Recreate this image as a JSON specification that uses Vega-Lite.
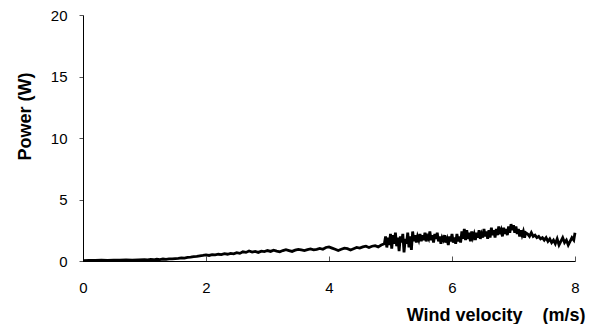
{
  "$schema": "https://vega.github.io/schema/vega-lite/v6.json",
  "width": 492,
  "height": 246,
  "autosize": {"type": "none"},
  "padding": {"left": 83, "top": 15, "right": 21, "bottom": 63},
  "background": "white",
  "config": {"view": {"stroke": null}, "font": "Liberation Sans"},
  "data": {"values": [
    {"v":0,"p":0.03},{"v":0.1,"p":0.05},{"v":0.2,"p":0.04},{"v":0.3,"p":0.06},{"v":0.4,"p":0.05},{"v":0.5,"p":0.07},{"v":0.6,"p":0.06},{"v":0.7,"p":0.08},{"v":0.8,"p":0.07},{"v":0.9,"p":0.09},{"v":1.0,"p":0.1},
    {"v":1.05,"p":0.09},{"v":1.1,"p":0.12},{"v":1.15,"p":0.1},{"v":1.2,"p":0.14},{"v":1.25,"p":0.12},{"v":1.3,"p":0.16},{"v":1.35,"p":0.13},{"v":1.4,"p":0.18},{"v":1.45,"p":0.17},{"v":1.5,"p":0.2},{"v":1.55,"p":0.22},{"v":1.6,"p":0.25},{"v":1.65,"p":0.24},{"v":1.7,"p":0.3},{"v":1.75,"p":0.32},{"v":1.8,"p":0.35},{"v":1.85,"p":0.38},{"v":1.9,"p":0.42},{"v":1.95,"p":0.45},{"v":2.0,"p":0.5},
    {"v":2.05,"p":0.45},{"v":2.1,"p":0.52},{"v":2.15,"p":0.5},{"v":2.2,"p":0.55},{"v":2.25,"p":0.52},{"v":2.3,"p":0.6},{"v":2.35,"p":0.55},{"v":2.4,"p":0.62},{"v":2.45,"p":0.58},{"v":2.5,"p":0.68},{"v":2.55,"p":0.62},{"v":2.6,"p":0.75},{"v":2.65,"p":0.7},{"v":2.7,"p":0.82},{"v":2.75,"p":0.72},{"v":2.8,"p":0.78},{"v":2.85,"p":0.7},{"v":2.9,"p":0.8},{"v":2.95,"p":0.76},{"v":3.0,"p":0.85},{"v":3.05,"p":0.78},{"v":3.1,"p":0.88},{"v":3.15,"p":0.8},{"v":3.2,"p":0.75},{"v":3.25,"p":0.85},{"v":3.3,"p":0.92},{"v":3.35,"p":0.85},{"v":3.4,"p":0.78},{"v":3.45,"p":0.88},{"v":3.5,"p":0.95},{"v":3.55,"p":0.9},{"v":3.6,"p":0.85},{"v":3.65,"p":0.92},{"v":3.7,"p":0.98},{"v":3.75,"p":0.9},{"v":3.8,"p":0.95},{"v":3.85,"p":1.02},{"v":3.9,"p":0.95},{"v":3.95,"p":1.1},{"v":4.0,"p":1.15},
    {"v":4.05,"p":1.05},{"v":4.1,"p":0.95},{"v":4.15,"p":0.85},{"v":4.2,"p":0.95},{"v":4.25,"p":1.05},{"v":4.3,"p":1.0},{"v":4.35,"p":0.9},{"v":4.4,"p":1.0},{"v":4.45,"p":1.1},{"v":4.5,"p":1.05},{"v":4.55,"p":1.15},{"v":4.6,"p":1.2},{"v":4.65,"p":1.1},{"v":4.7,"p":1.2},{"v":4.75,"p":1.25},{"v":4.8,"p":1.15},{"v":4.85,"p":1.3},{"v":4.9,"p":1.4},
    {"v":4.92,"p":2.0},{"v":4.94,"p":1.1},{"v":4.96,"p":1.9},{"v":4.98,"p":1.3},{"v":5.0,"p":2.2},{"v":5.02,"p":1.0},{"v":5.04,"p":2.1},{"v":5.06,"p":1.4},{"v":5.08,"p":2.3},{"v":5.1,"p":1.2},{"v":5.12,"p":1.9},{"v":5.14,"p":0.8},{"v":5.16,"p":2.0},{"v":5.18,"p":1.5},{"v":5.2,"p":2.2},{"v":5.22,"p":0.7},{"v":5.24,"p":1.8},{"v":5.26,"p":1.4},{"v":5.28,"p":2.3},{"v":5.3,"p":1.1},{"v":5.32,"p":2.0},{"v":5.34,"p":0.9},{"v":5.36,"p":2.4},{"v":5.38,"p":1.6},{"v":5.4,"p":2.1},{"v":5.42,"p":1.5},{"v":5.44,"p":2.0},{"v":5.46,"p":1.7},{"v":5.48,"p":2.2},{"v":5.5,"p":1.6},
    {"v":5.52,"p":2.1},{"v":5.54,"p":1.7},{"v":5.56,"p":2.3},{"v":5.58,"p":1.6},{"v":5.6,"p":2.0},{"v":5.62,"p":1.8},{"v":5.64,"p":2.4},{"v":5.66,"p":1.7},{"v":5.68,"p":2.1},{"v":5.7,"p":1.5},{"v":5.72,"p":2.2},{"v":5.74,"p":1.8},{"v":5.76,"p":2.3},{"v":5.78,"p":1.6},{"v":5.8,"p":2.0},{"v":5.82,"p":1.4},{"v":5.84,"p":1.9},{"v":5.86,"p":1.7},{"v":5.88,"p":2.1},{"v":5.9,"p":1.5},{"v":5.92,"p":1.8},{"v":5.94,"p":1.3},{"v":5.96,"p":2.0},{"v":5.98,"p":1.6},{"v":6.0,"p":2.2},{"v":6.02,"p":1.5},{"v":6.04,"p":1.9},{"v":6.06,"p":1.4},{"v":6.08,"p":2.2},{"v":6.1,"p":1.6},{"v":6.12,"p":2.0},{"v":6.14,"p":1.5},{"v":6.16,"p":2.4},{"v":6.18,"p":1.8},{"v":6.2,"p":2.6},
    {"v":6.22,"p":1.7},{"v":6.24,"p":2.5},{"v":6.26,"p":1.8},{"v":6.28,"p":2.3},{"v":6.3,"p":1.6},{"v":6.32,"p":2.4},{"v":6.34,"p":1.9},{"v":6.36,"p":2.2},{"v":6.38,"p":1.7},{"v":6.4,"p":2.3},{"v":6.42,"p":1.9},{"v":6.44,"p":2.5},{"v":6.46,"p":1.8},{"v":6.48,"p":2.2},{"v":6.5,"p":1.9},{"v":6.52,"p":2.6},{"v":6.54,"p":2.0},{"v":6.56,"p":2.4},{"v":6.58,"p":1.8},{"v":6.6,"p":2.5},{"v":6.62,"p":1.9},{"v":6.64,"p":2.7},{"v":6.66,"p":2.1},{"v":6.68,"p":2.5},{"v":6.7,"p":1.9},{"v":6.72,"p":2.6},{"v":6.74,"p":2.1},{"v":6.76,"p":2.8},{"v":6.78,"p":2.2},{"v":6.8,"p":2.5},{"v":6.82,"p":2.0},{"v":6.84,"p":2.7},{"v":6.86,"p":2.2},{"v":6.88,"p":2.6},{"v":6.9,"p":2.1},{"v":6.92,"p":2.8},{"v":6.94,"p":2.3},{"v":6.96,"p":3.0},{"v":6.98,"p":2.5},{"v":7.0,"p":2.9},{"v":7.02,"p":2.3},{"v":7.04,"p":2.8},{"v":7.06,"p":2.2},{"v":7.08,"p":2.6},{"v":7.1,"p":2.0},{"v":7.12,"p":2.5},{"v":7.14,"p":2.1},{"v":7.16,"p":2.4},{"v":7.18,"p":1.9},{"v":7.2,"p":2.3},
    {"v":7.23,"p":2.2},{"v":7.26,"p":2.0},{"v":7.29,"p":2.3},{"v":7.32,"p":2.0},{"v":7.35,"p":2.1},{"v":7.38,"p":1.9},{"v":7.41,"p":2.0},{"v":7.44,"p":1.8},{"v":7.47,"p":1.9},{"v":7.5,"p":1.7},{"v":7.53,"p":1.9},{"v":7.56,"p":1.6},{"v":7.59,"p":1.8},{"v":7.62,"p":1.5},{"v":7.65,"p":1.7},{"v":7.68,"p":1.4},{"v":7.71,"p":1.8},{"v":7.74,"p":1.3},{"v":7.77,"p":1.6},{"v":7.8,"p":1.9},{"v":7.83,"p":1.5},{"v":7.86,"p":1.7},{"v":7.89,"p":1.3},{"v":7.92,"p":1.6},{"v":7.95,"p":1.9},{"v":7.98,"p":1.7},{"v":8.0,"p":2.3}
  ]},
  "mark": {"type": "line", "color": "black", "strokeWidth": 2.8, "strokeJoin": "miter"},
  "encoding": {
    "x": {
      "field": "v", "type": "quantitative",
      "scale": {"domain": [0, 8], "nice": false, "zero": false},
      "axis": {
        "values": [0, 2, 4, 6, 8], "grid": false,
        "title": "Wind velocity\u00a0\u00a0\u00a0\u00a0(m/s)",
        "titleFont": "Liberation Sans", "titleFontSize": 18, "titleFontWeight": "bold", "titleColor": "black",
        "titleAnchor": "end", "titleAlign": "right", "titleX": 502, "titleY": 54, "titleBaseline": "middle",
        "labelFont": "Liberation Sans", "labelFontSize": 15, "labelColor": "black",
        "labelPadding": 24, "tickSize": -5, "tickColor": "#555", "tickWidth": 1,
        "domainColor": "black", "domainWidth": 1, "labelFlush": false
      }
    },
    "y": {
      "field": "p", "type": "quantitative",
      "scale": {"domain": [0, 20], "nice": false},
      "axis": {
        "values": [0, 5, 10, 15, 20], "grid": false,
        "title": "Power (W)",
        "titleFont": "Liberation Sans", "titleFontSize": 18, "titleFontWeight": "bold", "titleColor": "black",
        "titleAngle": -90, "titleX": -58, "titleY": 101, "titleAlign": "center", "titleBaseline": "middle",
        "labelFont": "Liberation Sans", "labelFontSize": 15, "labelColor": "black",
        "labelPadding": 12, "tickSize": 4, "tickColor": "#555", "tickWidth": 1,
        "domainColor": "black", "domainWidth": 1, "labelFlush": false
      }
    }
  }
}
